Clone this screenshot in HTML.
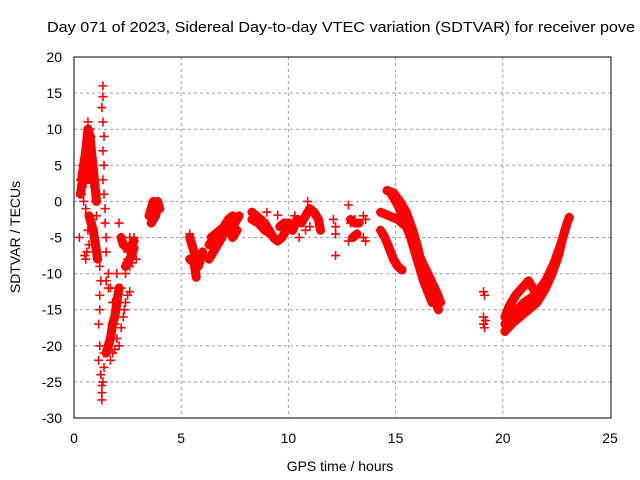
<!DOCTYPE html>
<html><head><meta charset="utf-8"><style>
body{margin:0;background:#fff;}
svg{display:block;font-family:"Liberation Sans",sans-serif;}
</style></head><body>
<svg id="chart" width="640" height="480" viewBox="0 0 640 480">
<text x="47" y="32" font-size="15" textLength="588" lengthAdjust="spacingAndGlyphs" fill="#000">Day 071 of 2023, Sidereal Day-to-day VTEC variation (SDTVAR) for receiver pove</text>
<text transform="translate(20,237) rotate(-90)" text-anchor="middle" font-size="14" fill="#000">SDTVAR / TECUs</text>
<text x="340" y="471" text-anchor="middle" font-size="14" fill="#000">GPS time / hours</text>
<g id="grid"></g>
<g id="ticks"></g>
<g id="marks"></g>
<rect x="74" y="57" width="537" height="361" fill="none" stroke="#000" stroke-width="1"/>
</svg>
<script>
const xTicks=[0,5,10,15,20,25];
const yTicks=[20,15,10,5,0,-5,-10,-15,-20,-25,-30];
const bandTracks=[
[[0.35,3],[0.45,5],[0.55,7],[0.65,10],[0.75,9],[0.85,6],[0.95,3],[1.05,0]],
[[0.3,1],[0.4,3],[0.5,4],[0.6,3],[0.7,5],[0.8,3]],
[[0.7,-2],[0.8,-3],[0.9,-4],[1.0,-6],[1.1,-8]],
[[1.5,-21],[1.6,-20],[1.7,-19],[1.8,-17],[1.9,-16],[2.0,-14],[2.1,-12]],
[[2.2,-5],[2.3,-6],[2.5,-6.5],[2.7,-6],[2.8,-5.5]],
[[2.4,-9],[2.6,-8],[2.8,-6.5]],
[[5.4,-5],[5.5,-6],[5.6,-7],[5.7,-8],[5.8,-9],[5.9,-8],[6.0,-7]],
[[5.4,-8],[5.6,-8.5],[5.7,-10.5]],
[[6.3,-8],[6.5,-7],[6.7,-6],[6.9,-5],[7.1,-4],[7.3,-3.5],[7.5,-3],[7.7,-2]],
[[6.3,-6],[6.6,-5],[6.8,-4.5],[7.0,-3.5],[7.2,-2.5],[7.4,-2]],
[[6.4,-5],[6.6,-4.5],[6.8,-4],[7.0,-3.5],[7.2,-2.5],[7.4,-5],[7.6,-4]],
[[8.3,-1.5],[8.5,-2],[8.7,-2.5],[8.9,-3],[9.1,-4],[9.3,-5],[9.5,-5.5],[9.7,-5],[9.9,-4],[10.1,-3.5]],
[[8.3,-2.5],[8.6,-3],[8.9,-4],[9.2,-4.5]],
[[9.6,-3.5],[9.8,-3],[10.0,-3]],
[[10.2,-4],[10.4,-2.5],[10.6,-3],[10.8,-2],[11.0,-1],[11.2,-1.5],[11.4,-2.5],[11.5,-4]],
[[3.5,-2],[3.6,-1],[3.7,0],[3.8,-0.5],[3.9,0],[4.0,-1]],
[[3.6,-3],[3.8,-2],[3.9,-1]],
[[12.9,-2.5],[13.1,-3],[13.3,-3]],
[[13.0,-5],[13.2,-4.5]],
[[14.6,1.5],[14.9,1.2],[15.2,0],[15.5,-1.5],[15.8,-4],[16.0,-6],[16.2,-8.5],[16.4,-10.5],[16.6,-12],[16.8,-13.5],[17.0,-15]],
[[14.8,1],[15.1,-0.5],[15.4,-2.5],[15.7,-5],[15.9,-7],[16.1,-9],[16.3,-11],[16.5,-12.5],[16.7,-14]],
[[14.3,-1.5],[14.7,-2],[15.1,-2.5],[15.5,-3.5],[15.8,-5.5],[16.1,-7.5],[16.5,-10],[16.9,-12.5],[17.1,-14]],
[[14.3,-4],[14.5,-5],[14.7,-6.5],[14.9,-8],[15.1,-9],[15.3,-9.5]],
[[20.1,-18],[20.4,-17],[20.8,-16],[21.2,-15],[21.6,-14],[22.0,-12],[22.3,-10],[22.6,-7.5],[22.8,-5],[23.0,-3],[23.1,-2.2]],
[[20.2,-17.5],[20.6,-16],[21.0,-15],[21.4,-14],[21.8,-12.5],[22.1,-10.5],[22.4,-8.5],[22.7,-6],[22.9,-4]],
[[20.1,-16],[20.3,-14.5],[20.6,-13],[20.9,-12],[21.2,-11],[21.5,-12.5],[21.8,-13]],
[[20.1,-17],[20.5,-15.5],[21.0,-14],[21.5,-13],[22.0,-11],[22.4,-8.5],[22.7,-6]]
];
const scatterPoints=[
[0.25,-5],[0.3,3],[0.35,1],[0.4,5],[0.45,3],[0.5,6],[0.55,4],[0.6,8],[0.65,11],[0.7,10],[0.75,7],[0.8,9],[0.85,5],[0.9,4],[0.95,2],[1.0,0],[1.05,-2],[0.6,3],[0.55,-1],[0.45,0],[0.4,2],[0.7,5],[0.75,10],[0.65,9],
[0.6,-7],[0.65,-4],[0.7,-2],[0.8,-3],[0.9,-4],[1.0,-6],[1.1,-8],[0.7,-6],[0.85,-2.5],[0.5,-7.5],[0.55,-8],
[1.35,16],[1.35,14.5],[1.3,13],[1.35,11],[1.4,9],[1.35,7],[1.4,5],[1.35,3],[1.4,1],[1.45,-1],[1.45,-3],[1.5,-5],[1.5,-7],
[1.2,-9],[1.25,-11],[1.2,-13],[1.2,-15],[1.15,-17],[1.2,-20],[1.15,-22],[1.25,-24],[1.3,-25.5],[1.3,-26.5],[1.3,-27.5],[1.35,-25],[1.4,-23],[1.4,-21],
[1.6,-10],[1.7,-12],[1.8,-14],[1.9,-17],[2.0,-19],[2.1,-20],[1.8,-21],[1.7,-22],[1.5,-21],[1.6,-20],[1.9,-20.5],[1.6,-12],[1.5,-11],
[2.1,-3],[2.2,-5],[2.3,-6],[2.5,-7],[2.7,-6],[2.8,-5],[2.9,-8],[2.6,-9],[2.4,-10],[2.2,-12],[2.0,-10],[2.6,-5],[2.75,-7],[2.5,-8],[2.7,-8.5],
[2.4,-14],[2.5,-13],[2.6,-12.5],[2.3,-16],[2.2,-17.5],[2.35,-15],
[5.4,-4.5],[9.5,-1.9],[12.1,-2.5],[12.2,-3.5],[12.2,-4.5],[12.2,-7.5],[12.8,-0.5],[12.9,-3],[13.1,-2.5],[13.3,-3],[13.0,-5],[13.2,-4.5],[12.8,-5.5],
[13.5,-2],[13.6,-2.5],[13.5,-5],[13.6,-5.5],[10.9,0],[11.0,-3.5],[10.5,-5],[9.0,-1.5],[9.8,-4.5],[10.3,-2],[10.8,-4],
[19.1,-12.5],[19.15,-13],[19.1,-16],[19.15,-17.5],[19.2,-16.5],[19.1,-17]
];
const X=h=>74+h*21.44, Y=v=>57+(20-v)*7.22;
const NS="http://www.w3.org/2000/svg";
const grid=document.getElementById('grid'),ticks=document.getElementById('ticks'),marks=document.getElementById('marks');
function mk(t,a,p){const e=document.createElementNS(NS,t);for(const k in a)e.setAttribute(k,a[k]);p.appendChild(e);return e;}
xTicks.forEach(t=>{
 if(t>0&&t<25){const l=mk('line',{x1:X(t),x2:X(t),y1:57,y2:418,stroke:'#a0a0a0','stroke-dasharray':'3,3'},grid);
 
 }
 const tx=mk('text',{x:X(t),y:443,'text-anchor':'middle','font-size':'14'},ticks);tx.textContent=t;
 
 
});
yTicks.forEach(t=>{
 if(t<20&&t>-30){const l=mk('line',{x1:74,x2:611,y1:Y(t),y2:Y(t),stroke:'#a0a0a0','stroke-dasharray':'3,3'},grid);
 
 }
 const tx=mk('text',{x:62,y:Y(t)+5,'text-anchor':'end','font-size':'14'},ticks);tx.textContent=t;
 
 
});
function plus(h,v){const x=X(h),y=Y(v);
 const p=mk('path',{d:`M${x-4.5},${y}H${x+4.5}M${x},${y-4.5}V${y+4.5}`,stroke:'#f00','stroke-width':'1.6',fill:'none'},marks);
 
 }
bandTracks.forEach(tr=>{
 const pl=mk('polyline',{points:tr.map(p=>X(p[0])+','+Y(p[1])).join(' '),stroke:'#f00','stroke-width':'9','fill':'none','stroke-linecap':'round','stroke-linejoin':'round'},marks);
 
 
 tr.forEach(p=>plus(p[0],p[1]));
});
scatterPoints.forEach(p=>plus(p[0],p[1]));
</script>
</body></html>
